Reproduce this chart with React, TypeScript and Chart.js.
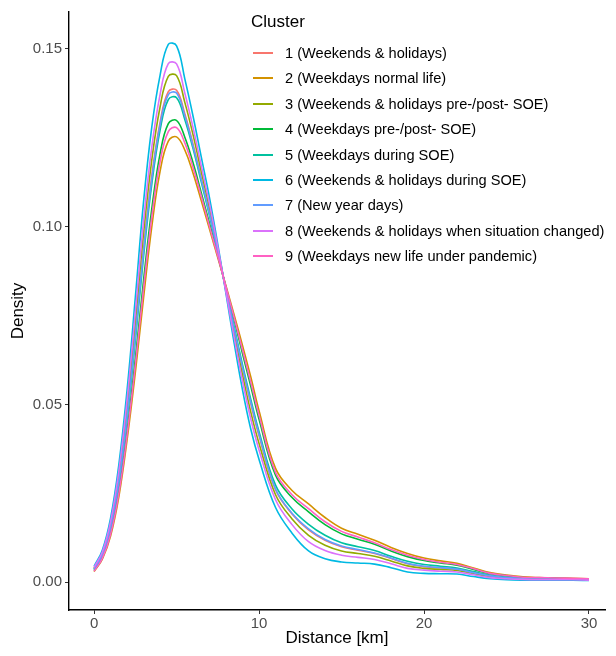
import React, { useEffect, useRef } from "react";
import { Chart, registerables } from "chart.js";

Chart.register(...registerables);

// Distance grid (km)
const DISTANCE_KM = [
  0, 0.5, 1, 1.5, 2, 2.5, 3, 3.5, 4, 4.5, 5, 5.5, 6, 6.5, 7, 7.5, 8, 8.5, 9, 9.5, 10,
  11, 12, 13, 14, 15, 16, 17, 18, 19, 20, 21, 22, 23, 24, 25, 26, 27, 28, 29, 30,
];

const X_TICKS = [0, 10, 20, 30];
const Y_TICKS = [0, 0.05, 0.1, 0.15];

const CLUSTER_LABELS = [
  "1 (Weekends & holidays)",
  "2 (Weekdays normal life)",
  "3 (Weekends & holidays pre-/post- SOE)",
  "4 (Weekdays pre-/post- SOE)",
  "5 (Weekdays during SOE)",
  "6 (Weekends & holidays during SOE)",
  "7 (New year days)",
  "8 (Weekends & holidays when situation changed)",
  "9 (Weekdays new life under pandemic)",
];

const CLUSTER1 = [
  0.0038, 0.0078, 0.0155, 0.0286, 0.0471, 0.0697, 0.0938, 0.1143, 0.1293, 0.1379, 0.1383,
  0.1317, 0.1231, 0.1134, 0.1036, 0.0931, 0.0821, 0.0709, 0.0601, 0.0502, 0.0412,
  0.026, 0.0192, 0.0147, 0.0118, 0.01, 0.009, 0.0081, 0.0067, 0.0052, 0.0044,
  0.004, 0.0037, 0.0027, 0.0018, 0.0013, 0.001, 0.0009, 0.0009, 0.0008, 0.0008,
];
const CLUSTER2 = [
  0.003, 0.0065, 0.013, 0.024, 0.04, 0.059, 0.08, 0.1, 0.1155, 0.124, 0.1252,
  0.1215, 0.115, 0.1072, 0.0992, 0.0912, 0.0832, 0.075, 0.0665, 0.0577, 0.0482,
  0.032, 0.0258, 0.022, 0.0182, 0.0152, 0.0135, 0.0118, 0.0098, 0.0081, 0.0068,
  0.006, 0.0053, 0.004, 0.0027, 0.002, 0.0015, 0.0013, 0.0012, 0.0011, 0.001,
];
const CLUSTER3 = [
  0.004, 0.0082, 0.0163, 0.03, 0.0494, 0.0731, 0.0981, 0.1188, 0.1336, 0.1422, 0.1424,
  0.1349, 0.1258, 0.1154, 0.1051, 0.0938, 0.0818, 0.0697, 0.0582, 0.0478, 0.039,
  0.0246, 0.0178, 0.0132, 0.0104, 0.0088, 0.0081, 0.0073, 0.006, 0.0046, 0.0039,
  0.0036, 0.0033, 0.0024, 0.0016, 0.0011, 0.0009, 0.0008, 0.0008, 0.0008, 0.0007,
];
const CLUSTER4 = [
  0.0033, 0.0069, 0.0139, 0.0256, 0.0425, 0.0628, 0.0849, 0.105, 0.1204, 0.1289, 0.1298,
  0.1251, 0.1179, 0.1094, 0.1008, 0.0919, 0.0828, 0.0736, 0.0642, 0.0551, 0.0458,
  0.0301, 0.0238, 0.0198, 0.0162, 0.0136, 0.0121, 0.0107, 0.0088, 0.0072, 0.0061,
  0.0054, 0.0048, 0.0036, 0.0024, 0.0018, 0.0013, 0.0012, 0.0011, 0.001, 0.0009,
];
const CLUSTER5 = [
  0.0036, 0.0076, 0.0151, 0.0279, 0.046, 0.068, 0.0916, 0.112, 0.1271, 0.1357, 0.1362,
  0.1301, 0.1219, 0.1125, 0.103, 0.0928, 0.0822, 0.0716, 0.0611, 0.0514, 0.0423,
  0.0273, 0.0206, 0.0163, 0.0132, 0.0111, 0.01, 0.0089, 0.0073, 0.0059, 0.005,
  0.0045, 0.004, 0.003, 0.002, 0.0014, 0.0011, 0.001, 0.0009, 0.0009, 0.0008,
];
const CLUSTER6 = [
  0.0045, 0.009, 0.018, 0.033, 0.054, 0.08, 0.107, 0.128, 0.1425, 0.1512, 0.1508,
  0.1415, 0.131, 0.1195, 0.108, 0.095, 0.081, 0.067, 0.054, 0.043, 0.0345,
  0.021, 0.0138, 0.0088, 0.0066, 0.0057, 0.0054, 0.0051, 0.0041, 0.0029, 0.0025,
  0.0024, 0.0023, 0.0016, 0.001, 0.0007, 0.0006, 0.0006, 0.0006, 0.0006, 0.0005,
];
const CLUSTER7 = [
  0.0037, 0.0077, 0.0154, 0.0283, 0.0467, 0.0691, 0.093, 0.1134, 0.1285, 0.1371, 0.1375,
  0.1311, 0.1226, 0.1131, 0.1034, 0.093, 0.0821, 0.0711, 0.0604, 0.0506, 0.0416,
  0.0262, 0.0194, 0.015, 0.012, 0.0102, 0.0092, 0.0082, 0.0068, 0.0053, 0.0045,
  0.0041, 0.0037, 0.0027, 0.0018, 0.0013, 0.001, 0.0009, 0.0009, 0.0009, 0.0008,
];
const CLUSTER8 = [
  0.0042, 0.0085, 0.017, 0.0312, 0.0512, 0.0758, 0.1016, 0.1224, 0.1371, 0.1458, 0.1457,
  0.1375, 0.1278, 0.117, 0.1062, 0.0942, 0.0814, 0.0686, 0.0565, 0.0459, 0.0372,
  0.0232, 0.0162, 0.0114, 0.0089, 0.0076, 0.007, 0.0064, 0.0052, 0.0039, 0.0034,
  0.0031, 0.0029, 0.0021, 0.0013, 0.001, 0.0008, 0.0007, 0.0007, 0.0007, 0.0006,
];
const CLUSTER9 = [
  0.0031, 0.0067, 0.0135, 0.0249, 0.0414, 0.0611, 0.0827, 0.1028, 0.1182, 0.1267, 0.1278,
  0.1235, 0.1166, 0.1085, 0.1, 0.0916, 0.083, 0.0742, 0.0652, 0.0562, 0.0469,
  0.0309, 0.0246, 0.0207, 0.017, 0.0143, 0.0127, 0.0111, 0.0092, 0.0076, 0.0064,
  0.0056, 0.005, 0.0038, 0.0025, 0.0019, 0.0014, 0.0013, 0.0012, 0.0011, 0.001,
];

const SERIES = [CLUSTER1, CLUSTER2, CLUSTER3, CLUSTER4, CLUSTER5, CLUSTER6, CLUSTER7, CLUSTER8, CLUSTER9];

const COLORS = [
  "#F8766D", "#D39200", "#93AA00", "#00BA38", "#00C19F",
  "#00B9E3", "#619CFF", "#DB72FB", "#FF61C3",
];

const FONT = "'Liberation Sans', Arial, Helvetica, sans-serif";

export default function App() {
  const ref = useRef<HTMLCanvasElement | null>(null);

  useEffect(() => {
    if (!ref.current) return;
    const chart = new Chart(ref.current, {
      type: "line",
      data: {
        datasets: SERIES.map((s, i) => ({
          label: CLUSTER_LABELS[i],
          data: DISTANCE_KM.map((x, j) => ({ x, y: s[j] })),
          borderColor: COLORS[i],
          backgroundColor: COLORS[i],
          borderWidth: 1.6,
          pointRadius: 0,
          tension: 0.4,
          fill: false,
          order: 9 - i,
        })),
      },
      options: {
        responsive: false,
        animation: false,
        layout: { padding: { left: 0, top: 8, right: 11, bottom: 0 } },
        plugins: {
          legend: { display: false },
          tooltip: { enabled: false },
        },
        scales: {
          x: {
            type: "linear",
            min: -1.52,
            max: 30.97,
            afterBuildTicks: (scale: any) => {
              scale.ticks = X_TICKS.map((v) => ({ value: v }));
            },
            afterFit: (scale: any) => {
              scale.height = 46;
            },
            ticks: {
              color: "#4D4D4D",
              font: { family: FONT, size: 15 },
              padding: 1,
              maxRotation: 0,
              callback: (v: any) => String(v),
            },
            grid: {
              display: true,
              drawOnChartArea: false,
              drawTicks: true,
              tickLength: 4,
              color: "#333333",
            },
            border: { display: true, color: "#000000", width: 1.4 },
            title: {
              display: true,
              text: "Distance [km]",
              color: "#000000",
              font: { family: FONT, size: 17 },
              padding: { top: 0, bottom: 7 },
            },
          },
          y: {
            type: "linear",
            min: -0.0078,
            max: 0.1603,
            afterBuildTicks: (scale: any) => {
              scale.ticks = Y_TICKS.map((v) => ({ value: v }));
            },
            afterFit: (scale: any) => {
              scale.width = 69;
            },
            ticks: {
              color: "#4D4D4D",
              font: { family: FONT, size: 15 },
              padding: 3,
              callback: (v: any) => Number(v).toFixed(2),
            },
            grid: {
              display: true,
              drawOnChartArea: false,
              drawTicks: true,
              tickLength: 4,
              color: "#333333",
            },
            border: { display: true, color: "#000000", width: 1.4 },
            title: {
              display: true,
              text: "Density",
              color: "#000000",
              font: { family: FONT, size: 17 },
              padding: { top: 8, bottom: 0 },
            },
          },
        },
      },
    });
    return () => chart.destroy();
  }, []);

  return (
    <div style={{ position: "fixed", left: 0, top: 0, width: 616, height: 656, background: "#fff" }}>
      <canvas ref={ref} width={616} height={656} style={{ display: "block" }} />
      <div
        style={{
          position: "absolute",
          left: 251,
          top: 12,
          fontFamily: FONT,
          fontSize: 17,
          color: "#000",
          lineHeight: "20px",
        }}
      >
        Cluster
      </div>
      {CLUSTER_LABELS.map((label, i) => (
        <div
          key={label}
          style={{
            position: "absolute",
            left: 253,
            top: 53 + i * 25.4 - 10,
            height: 20,
            display: "flex",
            alignItems: "center",
            fontFamily: FONT,
            fontSize: 14.6,
            color: "#000",
            whiteSpace: "nowrap",
          }}
        >
          <span
            style={{
              display: "inline-block",
              width: 20,
              height: 2,
              background: COLORS[i],
              marginRight: 12,
            }}
          />
          <span>{label}</span>
        </div>
      ))}
    </div>
  );
}
